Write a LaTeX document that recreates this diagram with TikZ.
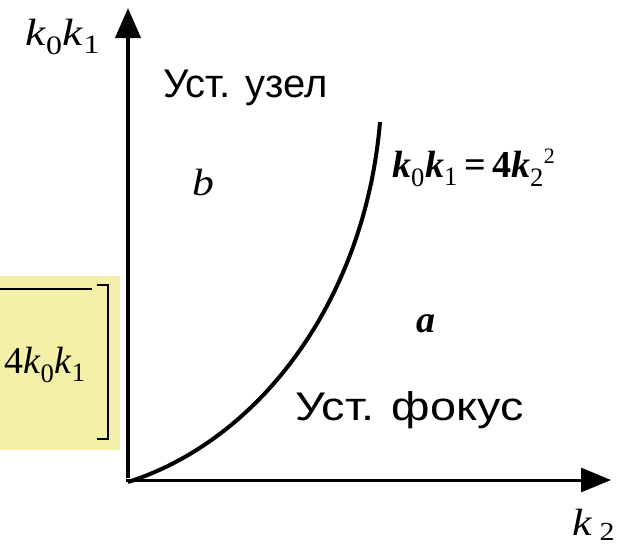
\documentclass[tikz,border=0pt]{standalone}
\usepackage{fontspec}
\setmainfont{Liberation Serif}
\newfontfamily\rusfont{Liberation Sans}
\usetikzlibrary{arrows.meta, positioning}
\definecolor{boxyellow}{RGB}{245,240,168}

\newcommand{\kvar}[1]{\textit{k}\textsubscript{#1}}
\newcommand{\kbold}[1]{\textbf{\textit{k}}\textsubscript{#1}}

\begin{document}
\begin{tikzpicture}[
  x=1pt, y=-1pt,
  >={Triangle[length=30pt,width=25pt]},
  axis/.style={->, line width=4pt},
  curve/.style={line width=4pt},
  mathlbl/.style={inner sep=0pt, anchor=base west, font=\fontsize{38}{40}\selectfont},
  region/.style={inner sep=0pt, anchor=base west, font=\rusfont\fontsize{40}{44}\selectfont},
  bracket/.style={line width=2pt}
]
\useasboundingbox (0,0) rectangle (635,555);

% Highlighted fragment on the left
\fill[boxyellow] (0,276) rectangle (120,450);
\coordinate (barl) at (0,289);
\coordinate (barr) at (92,289);
\draw[bracket] (barl) -- (barr);
\draw[bracket] (97,285) -- (108,285) -- (108,439) -- (97,439);
\node[mathlbl] (frac) at (4,373) {4\kvar{0}\kvar{1}};

% Axes
\coordinate (origin) at (128,480);
\coordinate (ytip) at (128,8);
\coordinate (xtip) at (611,480);
\draw[axis, line width=3pt, >={Triangle[length=30pt,width=24pt]}] ([xshift=-2pt]origin) -- (xtip);
\draw[axis] ([yshift=2pt]origin) -- (ytip);
\node[mathlbl] (ylabel) at (25,45) {\scalebox{1.2}[1]{\kvar{0}\kvar{1}}};
\node[mathlbl] (xlabel) at (572,535) {\scalebox{1.15}[1]{\textit{k}\,\raisebox{-5pt}{\fontsize{26}{28}\selectfont 2}}};

% Boundary curve
\coordinate (top) at (380,122);
\draw[curve] ([yshift=-2pt]origin) .. controls (260,440) and (365,300) .. (top);
\node[mathlbl] (eqn) at (392,177) {\kbold{0}\kbold{1}\textbf{\,=\,4}\kbold{2}\raisebox{14pt}{\fontsize{22}{24}\selectfont 2}};

% Regions
\node[region] (node) at (163,97) {Уст. узел};
\node[mathlbl] (b) at (192,195) {\scalebox{1.15}[1]{\textit{b}}};
\node[mathlbl] (a) at (416,332) {\textbf{\textit{a}}};
\node[region] (focus) at (295,420) {\scalebox{1.17}[1]{Уст. фокус}};

\end{tikzpicture}
\end{document}
